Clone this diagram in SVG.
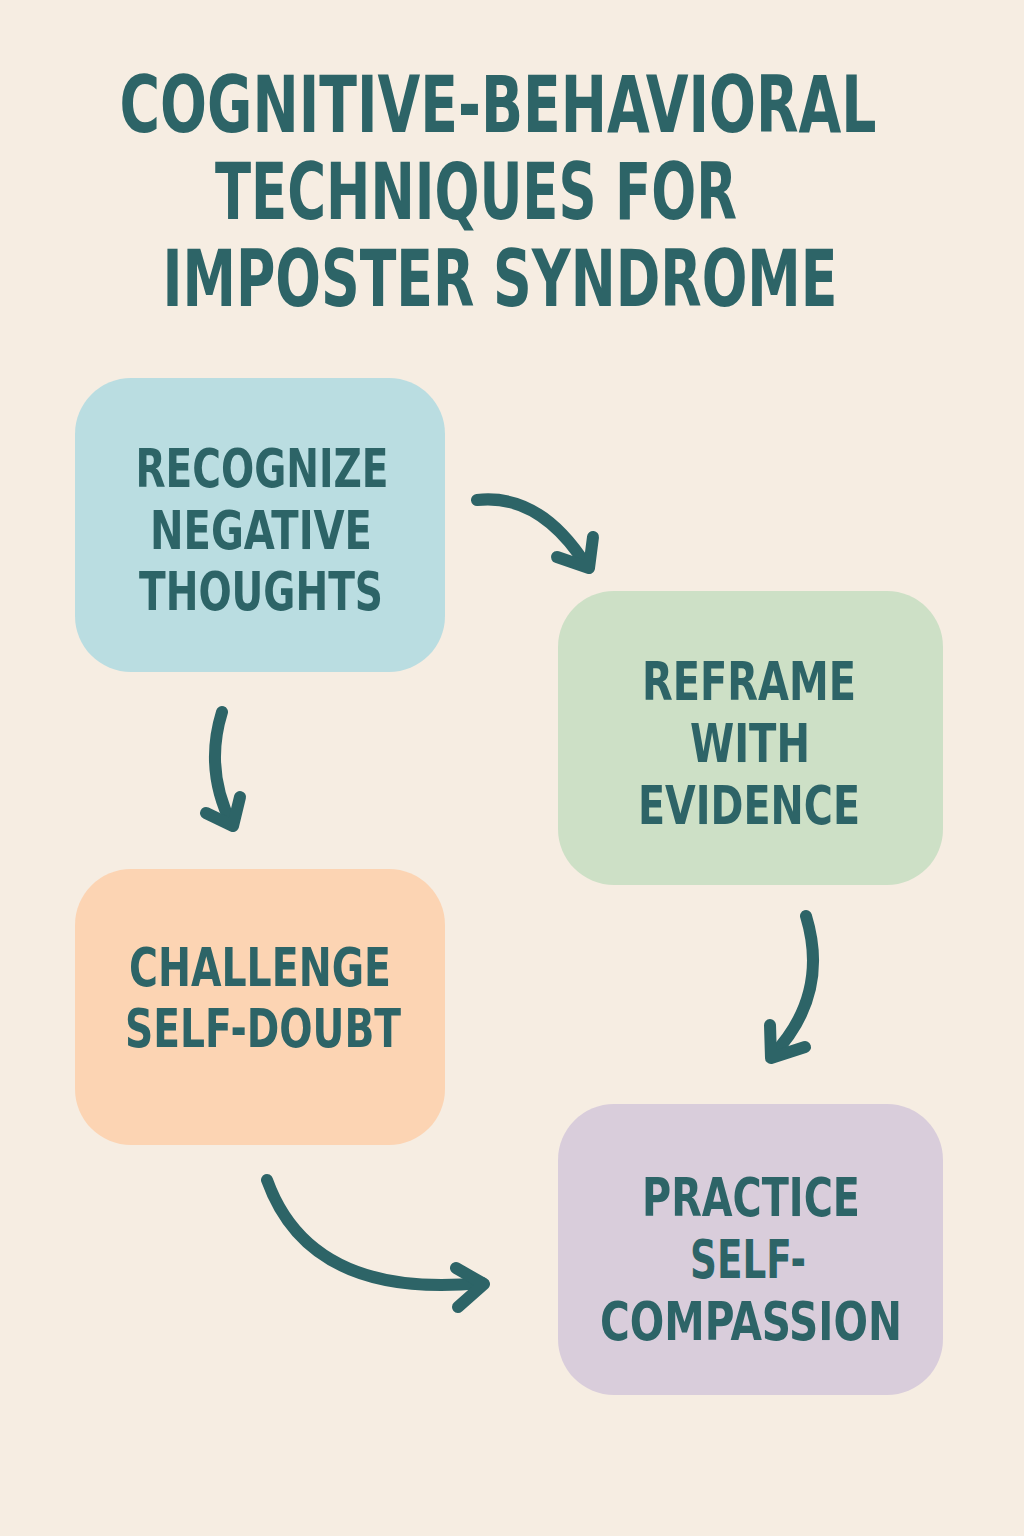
<svg xmlns="http://www.w3.org/2000/svg" width="1024" height="1536" viewBox="0 0 1024 1536">
<style>
.t{font-family:"DejaVu Sans Condensed","DejaVu Sans","Liberation Sans",sans-serif;font-weight:bold;fill:#2d6467;text-anchor:middle}
.title{font-size:78px}
.n{font-size:54px}
.c{fill:none;stroke:#2d6467;stroke-width:12;stroke-linecap:round;stroke-linejoin:round}
</style>
<rect width="1024" height="1536" fill="#f6ede2"/>
<g id="title">
<text class="t title" x="498" y="132" textLength="757" lengthAdjust="spacingAndGlyphs">COGNITIVE-BEHAVIORAL</text>
<text class="t title" x="476" y="219" textLength="522" lengthAdjust="spacingAndGlyphs">TECHNIQUES FOR</text>
<text class="t title" x="500" y="306" textLength="675" lengthAdjust="spacingAndGlyphs">IMPOSTER SYNDROME</text>
</g>
<g id="node-recognize">
<rect x="75" y="378" width="370" height="294" rx="56" fill="#badde1"/>
<text class="t n" x="262" y="487" textLength="253" lengthAdjust="spacingAndGlyphs">RECOGNIZE</text>
<text class="t n" x="261" y="549" textLength="222" lengthAdjust="spacingAndGlyphs">NEGATIVE</text>
<text class="t n" x="261" y="610" textLength="244" lengthAdjust="spacingAndGlyphs">THOUGHTS</text>
</g>
<g id="node-reframe">
<rect x="558" y="591" width="385" height="294" rx="56" fill="#cde0c6"/>
<text class="t n" x="749" y="700" textLength="214" lengthAdjust="spacingAndGlyphs">REFRAME</text>
<text class="t n" x="750" y="762" textLength="120" lengthAdjust="spacingAndGlyphs">WITH</text>
<text class="t n" x="749" y="824" textLength="222" lengthAdjust="spacingAndGlyphs">EVIDENCE</text>
</g>
<g id="node-challenge">
<rect x="75" y="869" width="370" height="276" rx="56" fill="#fcd4b3"/>
<text class="t n" x="260" y="986" textLength="262" lengthAdjust="spacingAndGlyphs">CHALLENGE</text>
<text class="t n" x="263" y="1047" textLength="276" lengthAdjust="spacingAndGlyphs">SELF-DOUBT</text>
</g>
<g id="node-practice">
<rect x="558" y="1104" width="385" height="291" rx="56" fill="#d9cddb"/>
<text class="t n" x="751" y="1216" textLength="218" lengthAdjust="spacingAndGlyphs">PRACTICE</text>
<text class="t n" x="748" y="1278" textLength="116" lengthAdjust="spacingAndGlyphs">SELF-</text>
<text class="t n" x="751" y="1340" textLength="302" lengthAdjust="spacingAndGlyphs">COMPASSION</text>
</g>
<g id="connectors">
<path class="c" d="M477 500 Q540 493 586 565"/>
<path class="c" d="M557 557 L589 568 L593 537"/>
<path class="c" d="M222 712 Q204 770 232 825"/>
<path class="c" d="M206 813 L233 826 L240 797"/>
<path class="c" d="M806 916 Q830 995 772 1056"/>
<path class="c" d="M770 1025 L771 1058 L805 1047"/>
<path class="c" d="M267 1180 Q310 1300 482 1283"/>
<path class="c" d="M456 1268 L484 1284 L458 1307"/>
</g>
</svg>
